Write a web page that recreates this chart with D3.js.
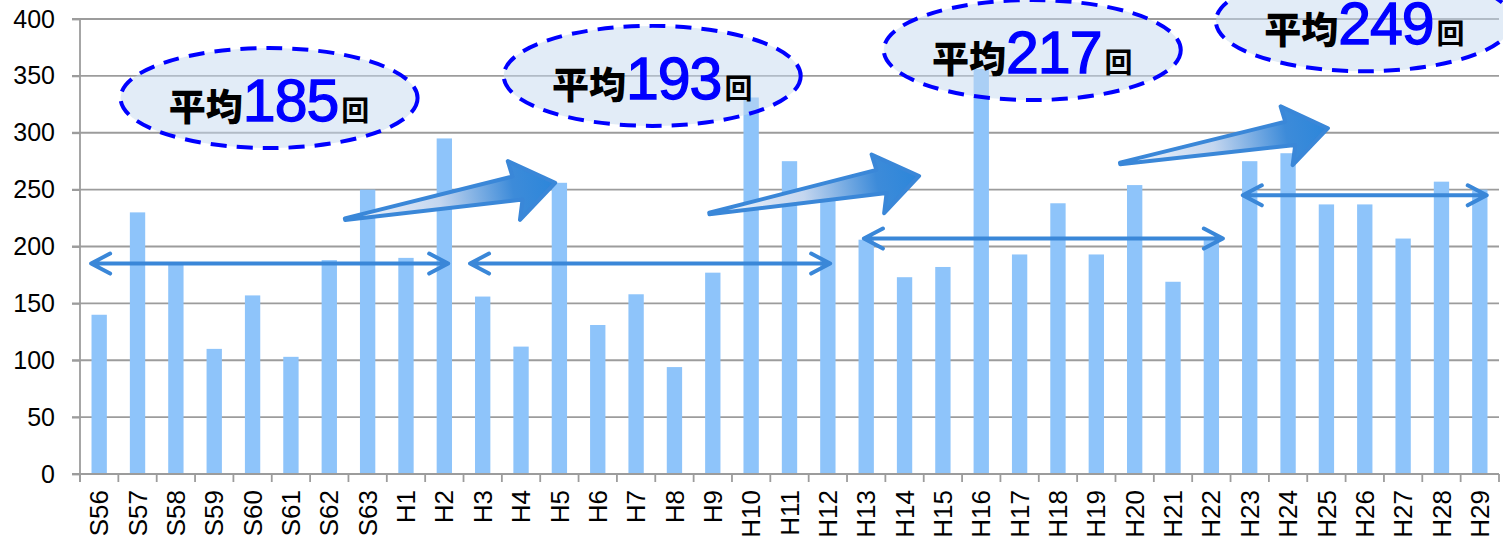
<!DOCTYPE html>
<html>
<head>
<meta charset="utf-8">
<script src="https://cdn.jsdelivr.net/npm/d3@7"></script>
<style>
  body { margin: 0; background: #fff; }
  svg { display: block; }
</style>
</head>
<body>
<svg id="chart" width="1503" height="542"></svg>
<script>
// years (Showa 56 .. Heisei 29)
const categories = ["S56","S57","S58","S59","S60","S61","S62","S63",
  "H1","H2","H3","H4","H5","H6","H7","H8","H9","H10","H11","H12",
  "H13","H14","H15","H16","H17","H18","H19","H20","H21","H22",
  "H23","H24","H25","H26","H27","H28","H29"];

// count per year
const counts = [140,230,186,110,157,103,188,250,190,295,
  156,112,256,131,158,94,177,331,275,240,
  206,173,182,356,193,238,193,254,169,206,
  275,282,237,237,207,257,250];

const yTicks = [0,50,100,150,200,250,300,350,400];

// 10-year periods and their averages
const periodStart = ["S56","H3","H13","H23"];
const periodEnd   = ["H2","H12","H22","H29"];
const averages    = [185,193,217,249];

const plotL = 80, plotR = 1499, plotB = 474, plotT = 19;

const svg = d3.select("#chart");

const x = d3.scaleBand()
  .domain(categories)
  .range([plotL, plotR])
  .paddingInner(0.6)
  .paddingOuter(0.3);

// continuous category index -> pixel, for annotations
const xi = d3.scaleLinear().domain([0, categories.length]).range([plotL, plotR]);

const y = d3.scaleLinear().domain([0, 400]).range([plotB, plotT]);

const gray = "#9c9c9c";
const lineBlue = "#3a87d8";

// gridlines
svg.append("g")
  .selectAll("line")
  .data(yTicks)
  .join("line")
  .attr("x1", plotL - 8)
  .attr("x2", plotR)
  .attr("y1", d => y(d))
  .attr("y2", d => y(d))
  .attr("stroke", gray)
  .attr("stroke-width", 1.8);

// bars
svg.append("g")
  .selectAll("rect")
  .data(counts)
  .join("rect")
  .attr("x", (d, i) => x(categories[i]))
  .attr("width", x.bandwidth())
  .attr("y", d => y(d))
  .attr("height", d => y(0) - y(d))
  .attr("fill", "#8ec4fa");

// y axis
const yAxis = svg.append("g")
  .attr("transform", `translate(${plotL},0)`)
  .call(d3.axisLeft(y).tickValues(yTicks).tickSize(8).tickPadding(17));
yAxis.select(".domain").attr("stroke", gray).attr("stroke-width", 1.8)
  .attr("d", `M0,${plotT}V${plotB + 8}`);
yAxis.selectAll(".tick line").attr("stroke", gray).attr("stroke-width", 1.8);
yAxis.selectAll(".tick text")
  .attr("fill", "#000")
  .style("font-family", "'Liberation Sans', Arial, sans-serif")
  .style("font-size", "25px");

// x axis
const xAxis = svg.append("g")
  .attr("transform", `translate(0,${plotB})`)
  .call(d3.axisBottom(x).tickSize(0));
xAxis.select(".domain").attr("stroke", gray).attr("stroke-width", 1.8)
  .attr("d", `M${plotL - 8},0H${plotR}`);
xAxis.selectAll(".tick text")
  .attr("fill", "#000")
  .attr("transform", "rotate(-90)")
  .attr("text-anchor", "end")
  .attr("x", -16)
  .attr("y", 0)
  .attr("dy", "0.35em")
  .style("font-family", "'Liberation Sans', Arial, sans-serif")
  .style("font-size", "26px");
xAxis.append("g")
  .selectAll("line")
  .data(d3.range(categories.length + 1))
  .join("line")
  .attr("x1", d => xi(d))
  .attr("x2", d => xi(d))
  .attr("y1", 0)
  .attr("y2", 8)
  .attr("stroke", gray)
  .attr("stroke-width", 1.8);

// ---- annotations ----

// double-headed span arrows (category index, value level)
const spans = [
  { from: 0.29,  to: 9.6,   level: 185 },
  { from: 10.17, to: 19.56, level: 185 },
  { from: 20.44, to: 29.8,  level: 207 },
  { from: 30.32, to: 36.68, level: 245 }
];

const spanG = svg.append("g")
  .attr("fill", "none")
  .attr("stroke", lineBlue)
  .attr("stroke-width", 4)
  .attr("stroke-linecap", "round")
  .attr("stroke-linejoin", "round");

spans.forEach(s => {
  const x1 = xi(s.from), x2 = xi(s.to), yy = y(s.level);
  spanG.append("path")
    .attr("d", `M${x1},${yy}H${x2}` +
      `M${x1 + 19},${yy - 10}L${x1},${yy}L${x1 + 19},${yy + 10}` +
      `M${x2 - 19},${yy - 10}L${x2},${yy}L${x2 - 19},${yy + 10}`);
});

// gradient trend arrows
const defs = svg.append("defs");
const grad = defs.append("linearGradient")
  .attr("id", "trendGrad")
  .attr("x1", 0).attr("y1", 0).attr("x2", 1).attr("y2", 0);
grad.selectAll("stop")
  .data([
    { o: 0,    c: "#f4f7fc" },
    { o: 0.45, c: "#c4d6ef" },
    { o: 0.8,  c: "#3d8bd9" },
    { o: 1,    c: "#2c86da" }
  ])
  .join("stop")
  .attr("offset", d => d.o)
  .attr("stop-color", d => d.c);

const trends = [
  { tail: [6.91, 224],  tip: [12.39, 256] },
  { tail: [16.41, 229], tip: [21.88, 262] },
  { tail: [27.12, 273], tip: [32.54, 304] }
];

trends.forEach(t => {
  const tx = xi(t.tail[0]), ty = y(t.tail[1]);
  const px = xi(t.tip[0]),  py = y(t.tip[1]);
  const L = Math.hypot(px - tx, py - ty);
  const ang = Math.atan2(py - ty, px - tx) * 180 / Math.PI;
  const pts = [
    [0, -0.8], [L - 41, -13.5], [L - 43, -29.5], [L, 0],
    [L - 41, 30.5], [L - 35, 11], [0, 0.8]
  ];
  svg.append("path")
    .attr("transform", `translate(${tx},${ty}) rotate(${ang})`)
    .attr("d", d3.line()(pts) + "Z")
    .attr("fill", "url(#trendGrad)")
    .attr("stroke", lineBlue)
    .attr("stroke-width", 4)
    .attr("stroke-linejoin", "round");
});

// average bubbles
const bubbles = [
  { cx: 4.93,  cy: 330.5 },
  { cx: 14.92, cy: 350 },
  { cx: 24.83, cy: 372.7 },
  { cx: 33.49, cy: 398 }
];

bubbles.forEach((b, i) => {
  const cx = xi(b.cx), cy = y(b.cy);
  const g = svg.append("g");
  g.append("ellipse")
    .attr("cx", cx).attr("cy", cy)
    .attr("rx", 148.5).attr("ry", 50)
    .attr("fill", "rgba(198,218,240,0.5)")
    .attr("stroke", "#0000ff")
    .attr("stroke-width", 4)
    .attr("stroke-dasharray", "16 10");
  const t = g.append("text")
    .attr("x", cx)
    .attr("y", cy + 23)
    .attr("text-anchor", "middle");
  t.append("tspan")
    .text("平均")
    .style("font-family", "'Noto Sans CJK JP', sans-serif")
    .style("font-weight", 900)
    .style("font-size", "37px")
    .attr("fill", "#000");
  t.append("tspan")
    .text(averages[i])
    .style("font-family", "'Liberation Sans', Arial, sans-serif")
    .style("font-size", "59px")
    .style("letter-spacing", "-1px")
    .attr("fill", "#0000ff")
    .attr("stroke", "#0000ff")
    .attr("stroke-width", 1.3);
  t.append("tspan")
    .text("回")
    .style("font-family", "'Noto Sans CJK JP', sans-serif")
    .style("font-weight", 700)
    .style("font-size", "28px")
    .attr("dx", 3)
    .attr("fill", "#000");
});
</script>
</body>
</html>
